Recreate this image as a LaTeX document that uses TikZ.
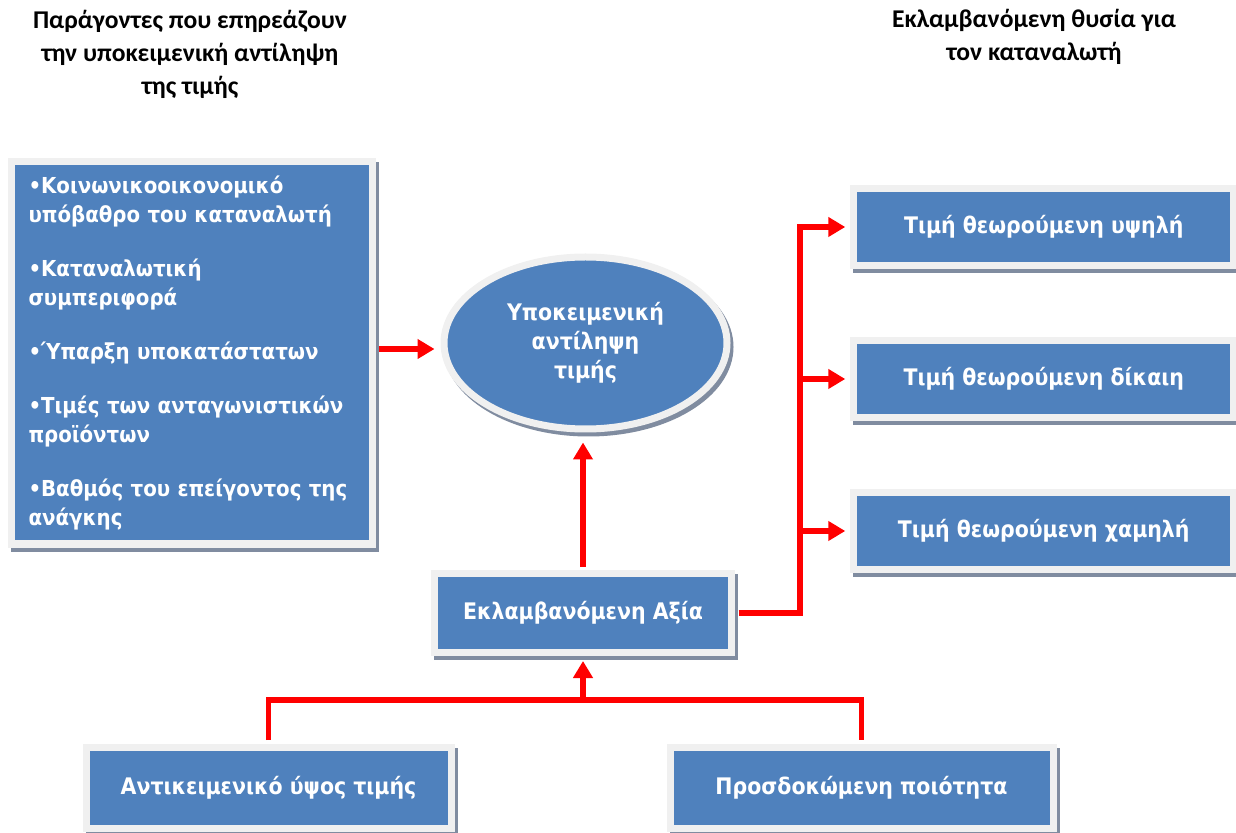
\documentclass[tikz,border=0pt]{standalone}
\usepackage{fontspec}
\setmainfont{DejaVu Sans Condensed}
\newfontfamily\headfont{Carlito}
\usepackage{xcolor}
\usetikzlibrary{shapes.geometric,arrows.meta,positioning,shadows}
\definecolor{boxblue}{RGB}{79,129,189}
\definecolor{framegray}{RGB}{240,240,240}
\definecolor{shadegray}{RGB}{128,140,160}
\definecolor{arrred}{RGB}{255,0,0}

\begin{document}
\begin{tikzpicture}[x=0.5pt,y=-0.5pt,
  node distance=34pt and 1.1cm,
  box/.style={rectangle,draw=framegray,line width=3.5pt,fill=boxblue,
              text=white,font=\fontsize{11.4}{14.5}\selectfont\bfseries,
              align=center,inner sep=0pt,
              general shadow={fill=shadegray,draw=shadegray,line width=3.5pt,
                              shadow xshift=1.5pt,shadow yshift=-2pt}},
  oval/.style={box,ellipse},
  arr/.style={-{Triangle[length=8.5pt,width=9.5pt]},draw=arrred,line width=2.8pt},
  link/.style={draw=arrred,line width=2.8pt},
  titlefont/.style={font=\headfont\fontsize{12.8}{16.5}\selectfont\bfseries,align=center},
]
\useasboundingbox (0,0) rectangle (1236,833);

%% --- titles ---
\node[titlefont] (titleL) at (190,54) {Παράγοντες που επηρεάζουν\\την υποκειμενική αντίληψη\\της τιμής};
\node[titlefont] (titleR) at (1034,37) {Εκλαμβανόμενη θυσία για\\τον καταναλωτή};

%% --- left column and centre ---
\node[box,font=\fontsize{11}{14.5}\selectfont\bfseries,minimum width=180.5pt,minimum height=191pt,
      text width=163pt,align=left] (factors) at (191.5,353)
  {•Κοινωνικοοικονομικό\\υπόβαθρο του καταναλωτή\\[12.5pt]
   •Καταναλωτική\\συμπεριφορά\\[12.5pt]
   •Ύπαρξη υποκατάστατων\\[12.5pt]
   •Τιμές των ανταγωνιστικών\\προϊόντων\\[12.5pt]
   •Βαθμός του επείγοντος της\\ανάγκης};
\node[oval,minimum width=141.5pt,minimum height=86pt] (perc) at (585.5,343) {Υποκειμενική\\αντίληψη\\τιμής};
\node[box,minimum width=148.5pt,minimum height=39.5pt] (value) at (583,613) {Εκλαμβανόμενη Αξία};

%% --- right column ---
\node[box,minimum width=190pt,minimum height=38.5pt] (high) at (1043.75,227) {Τιμή θεωρούμενη υψηλή};
\node[box,minimum width=190pt,minimum height=38.5pt,below=of high] (fair) {Τιμή θεωρούμενη δίκαιη};
\node[box,minimum width=190pt,minimum height=38.5pt,below=of fair] (low) {Τιμή θεωρούμενη χαμηλή};

%% --- bottom row ---
\node[box,minimum width=182.5pt,minimum height=40.5pt] (objective) at (268.5,787.5) {Αντικειμενικό ύψος τιμής};
\node[box,minimum width=191.5pt,minimum height=40.5pt] (quality) at (861.5,787.5) {Προσδοκώμενη ποιότητα};

%% --- connectors ---
\coordinate (pin) at ([yshift=-3pt]perc.west);
\draw[arr,shorten <=1.75pt,shorten >=3pt] (pin -| factors.east) -- (pin);
\draw[arr,shorten <=1.75pt,shorten >=5pt] (value.north) -- (value.north |- perc.south);

\coordinate (split) at (800,612);
\draw[arr,shorten <=1.75pt,shorten >=2.5pt] (value.east) -| (split |- high.west) -- (high.west);
\draw[arr,shorten >=2.5pt] (split |- fair.west) -- (fair.west);
\draw[arr,shorten >=2.5pt] (split |- low.west) -- (low.west);

\coordinate (merge) at (585,700);
\draw[link,shorten <=1.75pt,shorten >=1.75pt] (objective.north) |- (merge -| quality.north) -- (quality.north);
\draw[arr,shorten >=2.5pt] (merge -| value.south) -- (value.south);

\end{tikzpicture}
\end{document}
